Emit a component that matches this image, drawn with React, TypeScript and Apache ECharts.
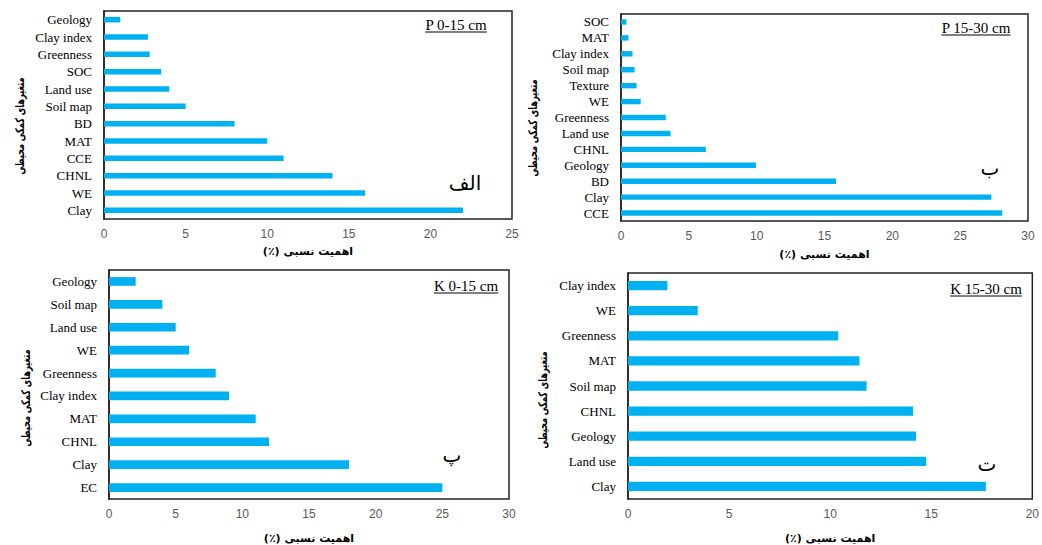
import React, { useEffect, useRef } from "react";
import * as echarts from "echarts";

// Panel P 0-15 cm
const p0Cats = ["Geology", "Clay index", "Greenness", "SOC", "Land use", "Soil map", "BD", "MAT", "CCE", "CHNL", "WE", "Clay"];
const p0Vals = [1, 2.7, 2.8, 3.5, 4, 5, 8, 10, 11, 14, 16, 22];

// Panel P 15-30 cm
const p15Cats = ["SOC", "MAT", "Clay index", "Soil map", "Texture", "WE", "Greenness", "Land use", "CHNL", "Geology", "BD", "Clay", "CCE"];
const p15Vals = [0.4, 0.55, 0.85, 1.0, 1.15, 1.45, 3.3, 3.65, 6.25, 9.95, 15.85, 27.3, 28.1];

// Panel K 0-15 cm
const k0Cats = ["Geology", "Soil map", "Land use", "WE", "Greenness", "Clay index", "MAT", "CHNL", "Clay", "EC"];
const k0Vals = [2, 4, 5, 6, 8, 9, 11, 12, 18, 25];

// Panel K 15-30 cm
const k15Cats = ["Clay index", "WE", "Greenness", "MAT", "Soil map", "CHNL", "Geology", "Land use", "Clay"];
const k15Vals = [1.95, 3.45, 10.4, 11.45, 11.8, 14.1, 14.25, 14.75, 17.7];

const panelTitles = ["P 0-15 cm", "P 15-30 cm", "K 0-15 cm", "K 15-30 cm"];
const panelLetters = ["الف", "ب", "پ", "ت"];
const xMaxes = [25, 30, 30, 20];
const xAxisTitle = "اهمیت نسبی (٪)\u200F";
const yAxisTitle = "متغیرهای کمکی محیطی";

const BAR = "#00B0F0";
const SERIF = "'Liberation Serif', 'Times New Roman', serif";
const SANS = "'Liberation Sans', Arial, sans-serif";
const FA = "'DejaVu Sans', sans-serif";

export default function App() {
  const ref = useRef<HTMLDivElement>(null);
  useEffect(() => {
    if (!ref.current) return;
    const chart = echarts.init(ref.current, undefined, { renderer: "svg" });

    const grids = [
      { left: 104, top: 11, width: 408, height: 208 },
      { left: 621, top: 14, width: 407, height: 207 },
      { left: 109, top: 270, width: 400, height: 229 },
      { left: 628, top: 273, width: 407, height: 229 },
    ];
    const cats = [p0Cats, p15Cats, k0Cats, k15Cats];
    const vals = [p0Vals, p15Vals, k0Vals, k15Vals];
    const barWidths = ["32%", "34%", "38%", "37%"];
    const xNameGaps = [27, 28, 34, 34];

    const canvas = document.createElement("canvas");
    const ctx = canvas.getContext("2d")!;
    ctx.font = "15px " + SERIF;

    const titlePos = [
      [456, 25],
      [976, 28],
      [466, 286],
      [986, 289],
    ];
    const letterPos = [
      [465, 183],
      [990, 168],
      [452, 455],
      [987, 464],
    ];
    const yTitlePos = [
      [19, 126],
      [532, 128],
      [25, 398],
      [542, 400],
    ];

    const graphics: any[] = [];
    panelTitles.forEach((t, i) => {
      const w = ctx.measureText(t).width;
      const [cx, cy] = titlePos[i];
      graphics.push({
        type: "text",
        x: cx,
        y: cy,
        style: { text: t, font: "15px " + SERIF, fill: "#000", align: "center", verticalAlign: "middle" },
      });
      graphics.push({
        type: "line",
        shape: { x1: cx - w / 2, y1: cy + 7, x2: cx + w / 2, y2: cy + 7 },
        style: { stroke: "#000", lineWidth: 1 },
      });
    });
    panelLetters.forEach((t, i) => {
      const [cx, cy] = letterPos[i];
      graphics.push({
        type: "text",
        x: cx,
        y: cy,
        style: { text: t, font: "20px " + FA, fill: "#000", align: "center", verticalAlign: "middle" },
      });
    });
    yTitlePos.forEach(([cx, cy]) => {
      graphics.push({
        type: "text",
        x: cx,
        y: cy,
        rotation: Math.PI / 2,
        scaleX: 0.68,
        style: { text: yAxisTitle, font: "bold 12px " + FA, fill: "#000", align: "center", verticalAlign: "middle" },
      });
    });

    chart.setOption({
      animation: false,
      backgroundColor: "#fff",
      grid: grids.map((g) => ({ ...g, show: true, borderColor: "#222", borderWidth: 1.5, backgroundColor: "transparent" })),
      xAxis: grids.map((_, i) => ({
        type: "value",
        gridIndex: i,
        min: 0,
        max: xMaxes[i],
        interval: 5,
        splitLine: { show: false },
        axisLine: { show: false },
        axisTick: { show: false },
        axisLabel: { color: "#595959", fontSize: 12, fontFamily: SANS, margin: 9 },
        name: xAxisTitle,
        nameLocation: "middle",
        nameGap: xNameGaps[i],
        nameTextStyle: { fontFamily: FA, fontSize: 11, fontWeight: "bold", color: "#000" },
      })),
      yAxis: grids.map((_, i) => ({
        type: "category",
        gridIndex: i,
        data: cats[i],
        inverse: true,
        axisLine: { show: true, lineStyle: { color: "#222", width: 1.5 } },
        axisTick: { show: false },
        splitLine: { show: false },
        axisLabel: { color: "#000", fontSize: 13, fontFamily: SERIF, margin: 12, interval: 0 },
      })),
      series: grids.map((_, i) => ({
        type: "bar",
        xAxisIndex: i,
        yAxisIndex: i,
        data: vals[i],
        barWidth: barWidths[i],
        itemStyle: { color: BAR },
      })),
      graphic: graphics,
    });

    return () => chart.dispose();
  }, []);

  return <div ref={ref} style={{ position: "fixed", left: 0, top: 0, width: 1042, height: 545 }} />;
}
